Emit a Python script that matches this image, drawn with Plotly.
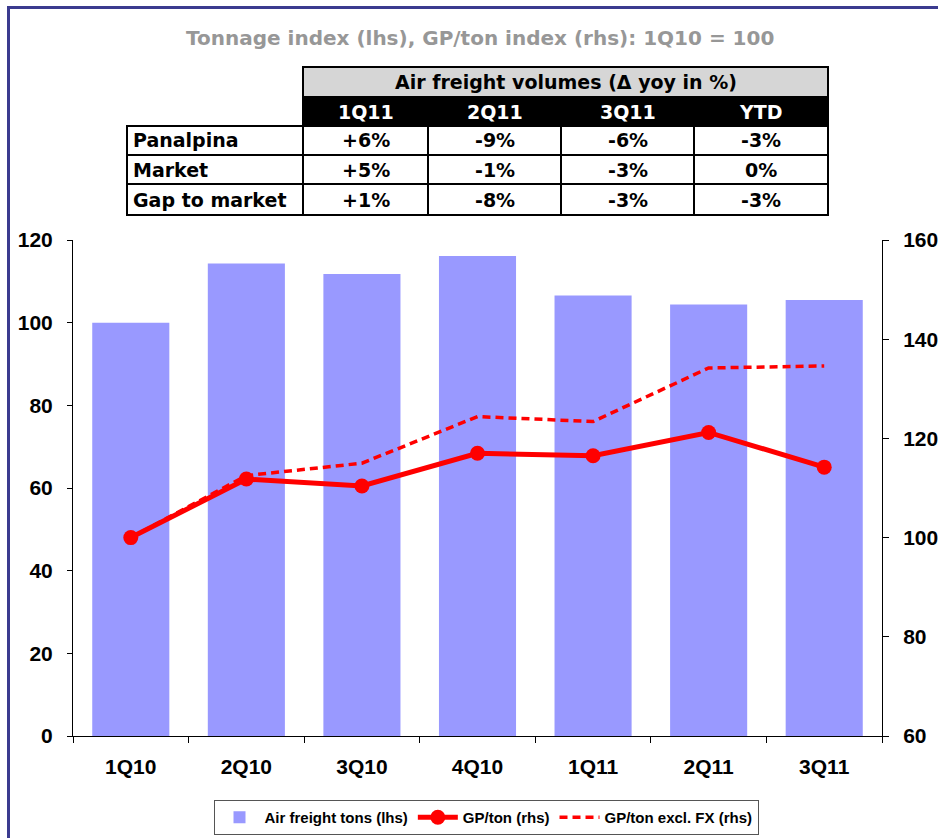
import plotly.graph_objects as go

# ---------------- data ----------------
quarters = ["1Q10", "2Q10", "3Q10", "4Q10", "1Q11", "2Q11", "3Q11"]
tonnage_index = [100, 114.3, 111.8, 116.1, 106.6, 104.4, 105.5]
gp_per_ton = [100, 111.8, 110.4, 117.0, 116.5, 121.2, 114.2]
gp_per_ton_excl_fx = [100, 112.5, 115.0, 124.4, 123.4, 134.2, 134.6]

table_title = "Air freight volumes (\u0394 yoy in %)"
table_columns = ["1Q11", "2Q11", "3Q11", "YTD"]
table_rows = ["Panalpina", "Market", "Gap to market"]
table_panalpina = ["+6%", "-9%", "-6%", "-3%"]
table_market = ["+5%", "-1%", "-3%", "0%"]
table_gap = ["+1%", "-8%", "-3%", "-3%"]

chart_title = "Tonnage index (lhs), GP/ton index (rhs): 1Q10 = 100"

# ---------------- layout geometry (page pixels) ----------------
W, H = 938, 838
L, R, T, B = 73, 882, 240, 736   # plot area in pixels


def px(x):
    return (x - L) / (R - L)


def py(y):
    return (B - y) / (B - T)


ARIAL = "Liberation Sans, Arial, sans-serif"
WIDE = "DejaVu Sans, Liberation Sans, Arial, sans-serif"

fig = go.Figure()
fig.add_trace(go.Bar(
    x=quarters, y=tonnage_index, name="Air freight tons (lhs)",
    marker=dict(color="#9999FF", line=dict(width=0)), yaxis="y",
))
fig.add_trace(go.Scatter(
    x=quarters, y=gp_per_ton, name="GP/ton (rhs)", mode="lines+markers",
    line=dict(color="#FF0000", width=5),
    marker=dict(color="#FF0000", size=15), yaxis="y2",
))
fig.add_trace(go.Scatter(
    x=quarters, y=gp_per_ton_excl_fx, name="GP/ton excl. FX (rhs)", mode="lines",
    line=dict(color="#FF0000", width=3.5, dash="8px,5px"), yaxis="y2",
))

shapes = []
annotations = []

# frame lines (top and left)
shapes.append(dict(type="line", xref="paper", yref="paper",
                   x0=px(7), x1=px(945), y0=py(7.5), y1=py(7.5),
                   line=dict(color="#3b3b8f", width=3)))
shapes.append(dict(type="line", xref="paper", yref="paper",
                   x0=px(8.5), x1=px(8.5), y0=py(6), y1=py(845),
                   line=dict(color="#3b3b8f", width=3)))

# table
tx0, tx1 = 303, 828
lx0 = 127
col_edges = [303, 428, 561, 694, 828]
y_gray = (67, 97)
y_black = (97, 126)
row_edges = [126, 155, 184, 215]
bw = 2

shapes.append(dict(type="rect", xref="paper", yref="paper",
                   x0=px(tx0), x1=px(tx1), y0=py(y_gray[1]), y1=py(y_gray[0]),
                   fillcolor="#d6d6d6", line=dict(color="black", width=bw)))
shapes.append(dict(type="rect", xref="paper", yref="paper",
                   x0=px(tx0), x1=px(tx1), y0=py(y_black[1]), y1=py(y_black[0]),
                   fillcolor="black", line=dict(color="black", width=bw)))
shapes.append(dict(type="rect", xref="paper", yref="paper",
                   x0=px(lx0), x1=px(tx1), y0=py(row_edges[-1]), y1=py(row_edges[0]),
                   fillcolor="rgba(0,0,0,0)", line=dict(color="black", width=bw)))
for ry in row_edges[1:-1]:
    shapes.append(dict(type="line", xref="paper", yref="paper",
                       x0=px(lx0), x1=px(tx1), y0=py(ry), y1=py(ry),
                       line=dict(color="black", width=bw)))
for cx in col_edges[:-1]:
    shapes.append(dict(type="line", xref="paper", yref="paper",
                       x0=px(cx), x1=px(cx), y0=py(row_edges[-1]), y1=py(row_edges[0]),
                       line=dict(color="black", width=bw)))

cell_font = dict(family=WIDE, size=19, color="black")
annotations.append(dict(xref="paper", yref="paper", x=px((tx0 + tx1) / 2),
                        y=py(sum(y_gray) / 2), text="<b>%s</b>" % table_title,
                        showarrow=False, font=cell_font, xanchor="center", yanchor="middle"))
for i, c in enumerate(table_columns):
    annotations.append(dict(xref="paper", yref="paper",
                            x=px((col_edges[i] + col_edges[i + 1]) / 2),
                            y=py(sum(y_black) / 2), text="<b>%s</b>" % c,
                            showarrow=False, font=dict(cell_font, color="white"),
                            xanchor="center", yanchor="middle"))
table_values = [table_panalpina, table_market, table_gap]
for r, (lab, vals) in enumerate(zip(table_rows, table_values)):
    yc = py((row_edges[r] + row_edges[r + 1]) / 2)
    annotations.append(dict(xref="paper", yref="paper", x=px(lx0 + 4), y=yc,
                            text="<b>%s</b>" % lab, showarrow=False, font=cell_font,
                            xanchor="left", yanchor="middle"))
    for i, v in enumerate(vals):
        annotations.append(dict(xref="paper", yref="paper",
                                x=px((col_edges[i] + col_edges[i + 1]) / 2), y=yc,
                                text="<b>%s</b>" % v, showarrow=False, font=cell_font,
                                xanchor="center", yanchor="middle"))

# chart title
annotations.append(dict(xref="paper", yref="paper", x=px(480), y=py(38),
                        text="<b>%s</b>" % chart_title, showarrow=False,
                        font=dict(family=WIDE, size=20, color="#979797"),
                        xanchor="center", yanchor="middle"))

tick_font = dict(family=ARIAL, size=21, color="black", weight="bold")

fig.update_layout(
    width=W, height=H,
    margin=dict(l=L, r=W - R, t=T, b=H - B, pad=0, autoexpand=False),
    paper_bgcolor="white", plot_bgcolor="white",
    bargap=0.333,
    showlegend=True,
    legend=dict(orientation="h", x=px(486), xanchor="center", y=py(800), yanchor="top",
                bgcolor="white", bordercolor="#555555", borderwidth=1,
                font=dict(family=ARIAL, size=15, color="black", weight="bold"),
                traceorder="normal", itemwidth=40, entrywidth=0),
    xaxis=dict(type="category", showline=True, linecolor="black", linewidth=1,
               ticks="outside", tickson="boundaries", ticklen=6, tickcolor="black",
               tickfont=tick_font, showgrid=False, ticklabelstandoff=12, automargin=False),
    yaxis=dict(range=[0, 120], dtick=20, showline=True, linecolor="black", linewidth=1,
               ticks="outside", ticklen=5, tickcolor="black", tickfont=tick_font,
               showgrid=False, zeroline=False, ticklabelstandoff=10, automargin=False),
    yaxis2=dict(range=[60, 160], dtick=20, overlaying="y", side="right",
                showline=True, linecolor="black", linewidth=1,
                ticks="outside", ticklen=6, tickcolor="black", tickfont=tick_font,
                showgrid=False, zeroline=False, ticklabelstandoff=10, automargin=False),
    shapes=shapes,
    annotations=annotations,
)

fig.write_html(
    "out.html",
    config={"displayModeBar": False},
    post_script="document.body.style.margin='0px';document.body.style.overflow='hidden';",
)
